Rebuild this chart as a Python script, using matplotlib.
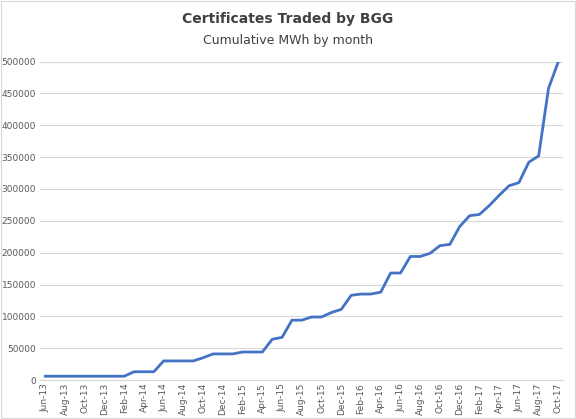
import matplotlib.pyplot as plt
import pandas as pd

months = pd.date_range('2013-06-01', '2017-10-01', freq='MS')
labels = [m.strftime('%b-%y') for m in months]
mwh = [6000]*9 + [13000]*3 + [30000]*4 + [35000, 41000, 41000, 41000, 44000, 44000, 44000,
       64000, 67000, 94000, 94000, 99000, 99000, 106000, 111000,
       133000, 135000, 135000, 138000, 168000, 168000, 194000, 194000, 199000, 211000, 213000, 241000,
       258000, 260000, 274000, 290000, 305000, 310000, 342000, 352000, 458000, 500000]

fig = plt.figure(figsize=(5.76, 4.19), dpi=100)
ax = fig.add_axes([0.07, 0.093, 0.908, 0.76])
x = list(range(len(mwh)))
ax.plot(x, mwh, color='#4472C4', lw=2)
ax.set_xlim(-0.5, len(mwh) - 0.5)
ax.set_ylim(0, 500000)
ax.set_yticks(range(0, 500001, 50000))
ax.set_xticks(x[::2])
ax.set_xticklabels(labels[::2], rotation=90, fontsize=6.5, color='#595959')
ax.tick_params(axis='y', labelsize=6.5, colors='#595959', length=0, pad=3)
ax.tick_params(axis='x', length=0, pad=2)
ax.grid(axis='y', color='#D9D9D9', lw=0.8)
for s in ['top', 'left', 'right']:
    ax.spines[s].set_visible(False)
ax.spines['bottom'].set_color('#D9D9D9')
fig.patches.append(plt.Rectangle((0.002, 0.002), 0.996, 0.996, transform=fig.transFigure,
                                 fill=False, edgecolor='#D9D9D9', lw=0.8))
fig.text(0.5, 0.945, 'Certificates Traded by BGG', ha='center', fontsize=10, fontweight='bold', color='#404040')
fig.text(0.5, 0.895, 'Cumulative MWh by month', ha='center', fontsize=9, color='#404040')
fig.savefig('out.png')
